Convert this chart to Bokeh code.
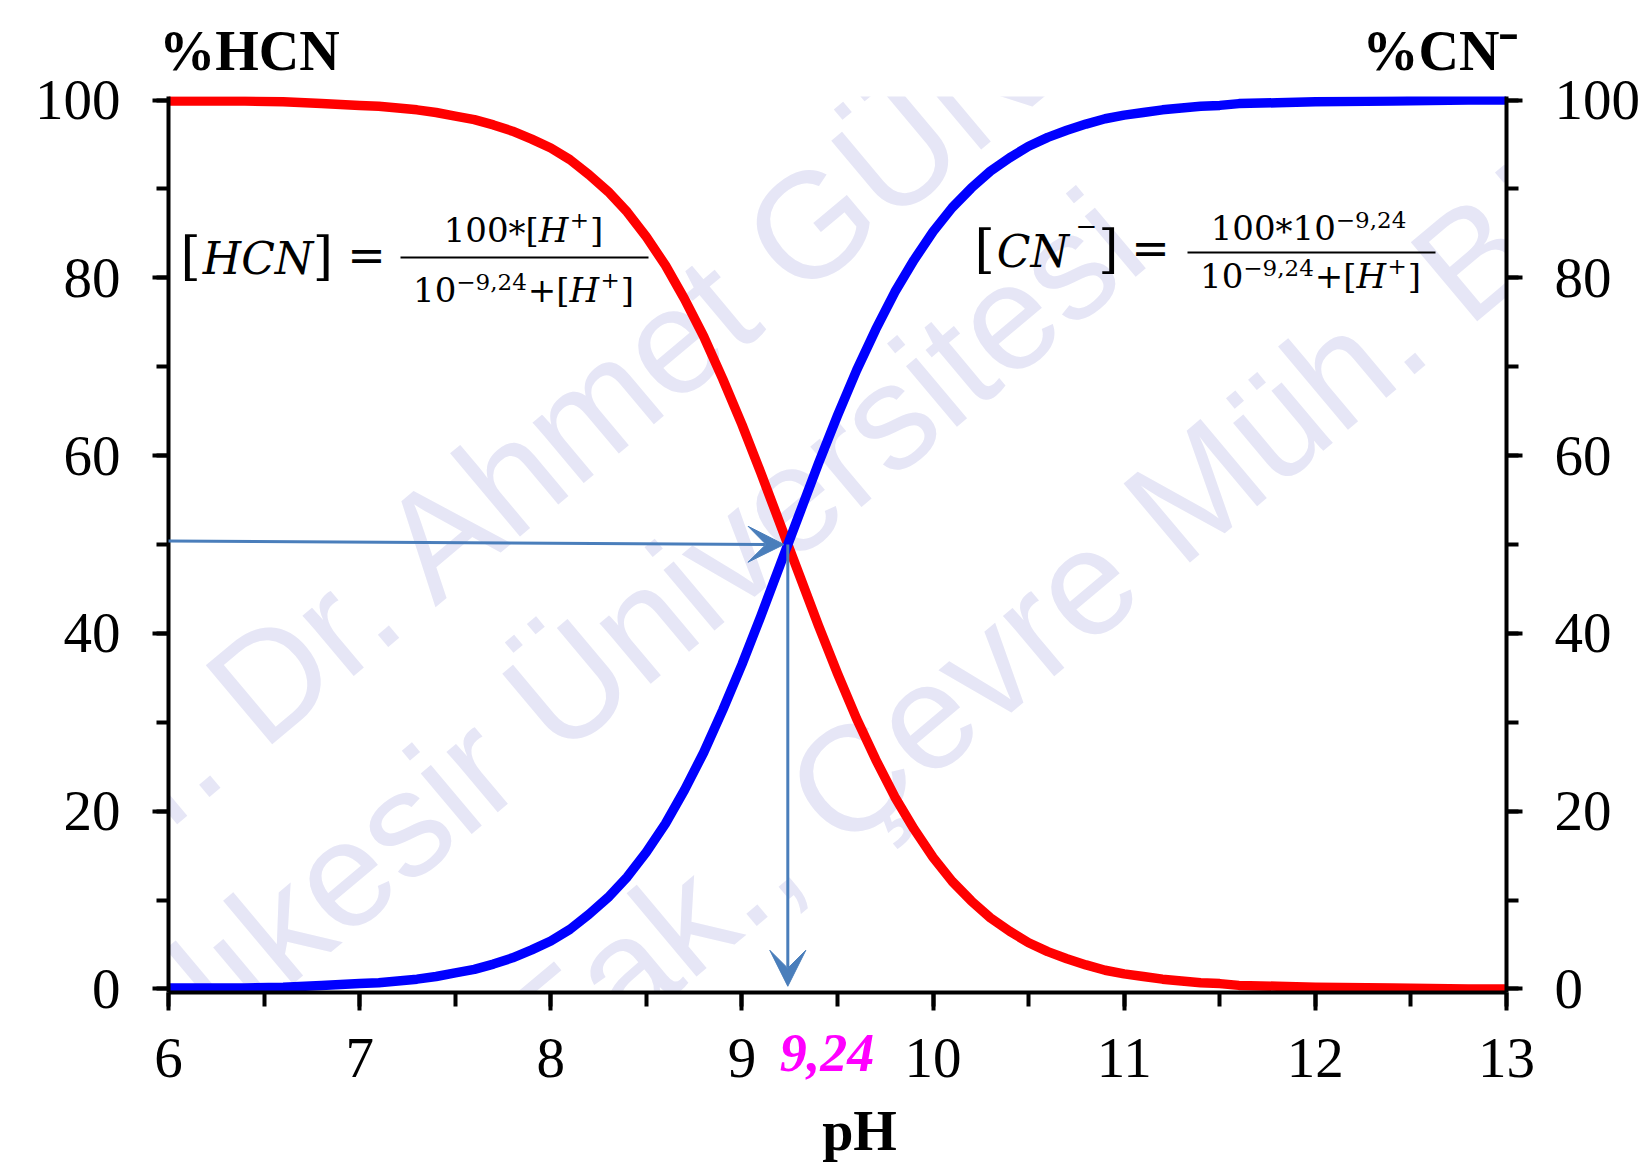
import math
from bokeh.plotting import figure
from bokeh.models import (Range1d, LinearAxis, SingleIntervalTicker, FixedTicker, Label,
                          Arrow, VeeHead)
from bokeh.embed import file_html
from bokeh.resources import INLINE

# ---------------- data ----------------
ph = [6.0, 6.2, 6.4, 6.6, 6.8, 6.9, 7.0, 7.1, 7.2, 7.3, 7.4, 7.5, 7.6, 7.7, 7.8, 7.9,
      8.0, 8.1, 8.2, 8.3, 8.4, 8.5, 8.6, 8.7, 8.8, 8.9, 9.0, 9.1, 9.2, 9.3, 9.4, 9.5,
      9.6, 9.7, 9.8, 9.9, 10.0, 10.1, 10.2, 10.3, 10.4, 10.5, 10.6, 10.7, 10.8, 10.9,
      11.0, 11.1, 11.2, 11.3, 11.4, 11.5, 11.6, 11.8, 12.0, 12.4, 12.8, 13.0]
hcn_pct = [99.9, 99.9, 99.9, 99.8, 99.6, 99.5, 99.4, 99.3, 99.1, 98.9, 98.6, 98.2, 97.8,
           97.2, 96.5, 95.6, 94.6, 93.3, 91.6, 89.7, 87.4, 84.6, 81.4, 77.6, 73.4, 68.6,
           63.5, 58.0, 52.3, 46.6, 40.9, 35.5, 30.4, 25.8, 21.6, 18.0, 14.8, 12.1, 9.9,
           8.0, 6.5, 5.2, 4.2, 3.4, 2.7, 2.1, 1.7, 1.4, 1.1, 0.9, 0.7, 0.6, 0.4, 0.3,
           0.2, 0.1, 0.0, 0.0]
cn_pct = [0.1, 0.1, 0.1, 0.2, 0.4, 0.5, 0.6, 0.7, 0.9, 1.1, 1.4, 1.8, 2.2, 2.8, 3.5, 4.4,
          5.4, 6.7, 8.4, 10.3, 12.6, 15.4, 18.6, 22.4, 26.6, 31.4, 36.5, 42.0, 47.7, 53.4,
          59.1, 64.5, 69.6, 74.2, 78.4, 82.0, 85.2, 87.9, 90.1, 92.0, 93.5, 94.8, 95.8,
          96.6, 97.3, 97.9, 98.3, 98.6, 98.9, 99.1, 99.3, 99.4, 99.6, 99.7, 99.8, 99.9,
          100.0, 100.0]
pka = 9.24
pka_text = "9,24"
pka_text_pos = 9.445
arrow_start_ph = 5.92
title_pos = [6.423, 12.655]
title_text = ["%HCN", "%CN\u207b"]
x_label = "pH"
x_label_pos = 9.615
watermark_lines = ["Prof. Dr. Ahmet GÜNAY", "Balıkesir Üniversitesi",
                   "Müh. Fak., Çevre Müh. Bölümü"]

# ---------------- geometry ----------------
W, H = 1643, 1166
FL, FW, FT, FH = 168, 1338, 96, 896
X0, X1 = 6.0, 13.0
Y0, Y1 = -0.4, 100.4
BASE_K = 0.38   # label baseline correction (fraction of font size)


def SX(px):          # canvas pixel -> frame screen units
    return px - FL


def SY(py):
    return FT + FH - py


p = figure(frame_width=FW, frame_height=FH, x_range=Range1d(X0, X1),
           y_range=Range1d(Y0, Y1), output_backend="svg", toolbar_location=None,
           min_border_left=FL, min_border_right=W - FL - FW, min_border_top=FT,
           min_border_bottom=H - FT - FH, background_fill_color="white",
           border_fill_color="white", outline_line_color=None)
p.xgrid.visible = False
p.ygrid.visible = False

p.xaxis.ticker = SingleIntervalTicker(interval=1, num_minor_ticks=2)
p.yaxis.ticker = SingleIntervalTicker(interval=20, num_minor_ticks=2)
ra = LinearAxis(ticker=SingleIntervalTicker(interval=20, num_minor_ticks=2))
p.add_layout(ra, "right")

for ax in [p.xaxis[0], p.yaxis[0], ra]:
    ax.axis_line_color = "black"
    ax.axis_line_width = 4
    ax.major_tick_line_color = "black"
    ax.major_tick_line_width = 4
    ax.minor_tick_line_color = "black"
    ax.minor_tick_line_width = 4
    ax.major_tick_in = 0
    ax.minor_tick_in = 0
    ax.major_label_text_font = "Liberation Serif"
    ax.major_label_text_font_size = "57px"
    ax.major_label_text_color = "black"
for ax in [p.yaxis[0], ra]:
    ax.major_tick_out = 16
    ax.minor_tick_out = 12
    ax.major_label_standoff = 32
p.xaxis[0].major_tick_out = 18
p.xaxis[0].minor_tick_out = 14
p.xaxis[0].major_label_standoff = 28


def text_axis(ticks, labels, size, style, color, standoff):
    ax = LinearAxis(ticker=FixedTicker(ticks=ticks, minor_ticks=[]),
                    major_label_overrides=dict(zip(ticks, labels)))
    ax.axis_line_color = None
    ax.major_tick_line_color = None
    ax.minor_tick_line_color = None
    ax.major_tick_out = 0
    ax.major_tick_in = 0
    ax.minor_tick_out = 0
    ax.minor_tick_in = 0
    ax.major_label_text_font = "Liberation Serif"
    ax.major_label_text_font_size = f"{size}px"
    ax.major_label_text_font_style = style
    ax.major_label_text_color = color
    ax.major_label_standoff = standoff
    return ax


# titles above the frame
p.add_layout(text_axis(title_pos, title_text, 56, "bold", "black", 15), "above")
# pKa value and pH label below the x axis
p.add_layout(text_axis([pka_text_pos], [pka_text], 54, "bold italic", "#FF00FF", -45), "below")
p.add_layout(text_axis([x_label_pos], [x_label], 56, "bold", "black", 20), "below")


def lab(px, py, text, size, font="Liberation Serif", style="normal", align="left",
        color="black", angle=0.0, level="annotation"):
    dy = BASE_K * size
    ox = -dy * math.sin(angle)
    oy = dy * math.cos(angle)
    p.add_layout(Label(x=SX(px) + ox, y=SY(py) + oy, x_units="screen", y_units="screen",
                       text=text, text_font=font, text_font_size=f"{size}px",
                       text_font_style=style, text_align=align,
                       text_baseline="alphabetic", text_color=color, angle=angle,
                       level=level))


# ---------------- watermark ----------------
wm_color = "#E6E6F6"
wm_angle = math.radians(40)
wm_starts = [(-9, 986), (90, 1160), (270, 1340)]
for txt, (sx, sy) in zip(watermark_lines, wm_starts):
    lab(sx, sy, txt, 150, font="Liberation Sans", color=wm_color, angle=wm_angle,
        level="underlay")

# ---------------- curves ----------------
p.line(ph, hcn_pct, line_color="#FF0000", line_width=9.5, line_join="round")
p.line(ph, cn_pct, line_color="#0000FF", line_width=9.5, line_join="round")

# ---------------- pKa arrows ----------------
steel = "#4A7EBB"
p.add_layout(Arrow(x_start=arrow_start_ph, y_start=50.4, x_end=pka - 0.02, y_end=50.0,
                   line_color=steel, line_width=3,
                   end=VeeHead(size=36, fill_color=steel, line_color=steel, line_width=1)))
p.add_layout(Arrow(x_start=pka, y_start=50.0, x_end=pka, y_end=0.3,
                   line_color=steel, line_width=3,
                   end=VeeHead(size=36, fill_color=steel, line_color=steel, line_width=1)))

# ---------------- formulas ----------------
FF = "DejaVu Serif"


def char_w(ch, italic):
    if ch.isdigit():
        return 0.636
    if ch in ",.":
        return 0.318
    if ch in "[]":
        return 0.390
    if ch in "+=−":
        return 0.838
    if ch == "*":
        return 0.500
    if ch == "H":
        return 0.85
    if ch == "C":
        return 0.72
    if ch == "N":
        return 0.84
    return 0.6


def run_w(item):
    t, s, st, r, g = item
    return sum(char_w(c, st == "italic") for c in t) * s + g


def runs_left(x, base, items):
    for it in items:
        t, s, st, r, g = it
        lab(x, base - r, t, s, font=FF, style=st)
        x += run_w(it)


def runs(cx, base, items):
    total = sum(run_w(it) for it in items)
    runs_left(cx - total / 2, base, items)


def bar(x0, x1, y):
    p.add_layout(Arrow(x_start=SX(x0), y_start=SY(y), x_end=SX(x1), y_end=SY(y),
                       start_units="screen", end_units="screen",
                       start=None, end=None, line_color="black", line_width=2))


N, S = 34, 23
den = [("10", N, "normal", 0, 0), ("−9,24", S, "normal", 12, 1), ("+", N, "normal", 0, 0),
       ("[", N, "normal", 0, 0), ("H", N, "italic", 0, 2), ("+", S, "normal", 14, 1),
       ("]", N, "normal", 0, 0)]

# formula 1
runs_left(180, 275, [("[", 52, "normal", 0, 2), ("HCN", 44, "italic", 0, 4),
                     ("]", 52, "normal", 0, 0)])
lab(366, 272, "=", 46, font=FF, align="center")
bar(400, 648, 257)
runs(523, 242, [("100", N, "normal", 0, 0), ("*", N, "normal", -3, 0),
                ("[", N, "normal", 0, 0), ("H", N, "italic", 0, 2),
                ("+", S, "normal", 14, 1), ("]", N, "normal", 0, 0)])
runs(523, 302, den)

# formula 2
runs_left(974, 268, [("[", 52, "normal", 0, 2), ("CN", 44, "italic", 0, 10),
                     ("−", 26, "normal", 33, 1), ("]", 52, "normal", 0, 0)])
lab(1150, 265, "=", 46, font=FF, align="center")
bar(1187, 1435, 252)
runs(1308, 240, [("100", N, "normal", 0, 0), ("*", N, "normal", -3, 0),
                 ("10", N, "normal", 0, 0), ("−9,24", S, "normal", 12, 0)])
runs(1310, 288, den)

open("out.html", "w").write(file_html(p, INLINE))
